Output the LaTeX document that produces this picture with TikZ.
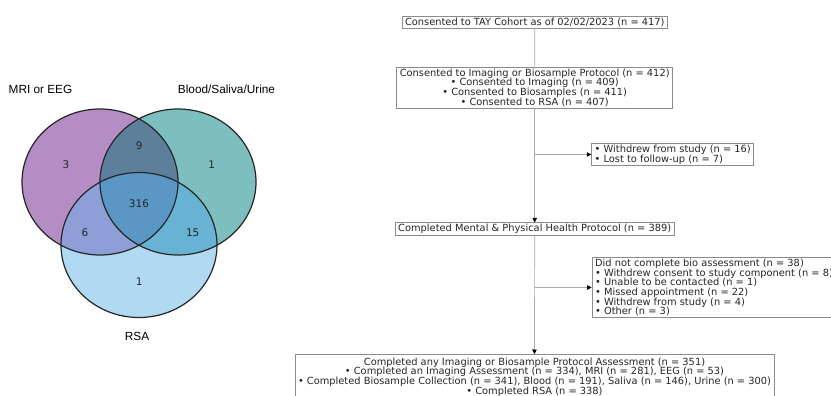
\documentclass[tikz,border=0pt]{standalone}
\usepackage{fontspec}
\setmainfont{DejaVu Sans}
\newfontfamily\arialfont{Liberation Sans}
\newfontfamily\dvfont{DejaVu Sans}
\usetikzlibrary{arrows.meta}
\definecolor{vL}{HTML}{B38DC4}
\definecolor{vR}{HTML}{7DBFBE}
\definecolor{vB}{HTML}{B1D9F2}
\definecolor{vLR}{HTML}{5C809C}
\definecolor{vLB}{HTML}{8E9FD7}
\definecolor{vRB}{HTML}{68B3D3}
\definecolor{vLRB}{HTML}{5A97C4}
\definecolor{boxline}{HTML}{8C8C8C}
\definecolor{conline}{HTML}{AAAAAA}
\definecolor{txt}{HTML}{262626}
\begin{document}
\begin{tikzpicture}[x=1pt,y=-1pt,
  flowbox/.style={draw=boxline, line width=0.8pt, text=txt, inner xsep=3pt, inner ysep=1.6pt,
    font=\dvfont\fontsize{9.85}{9.7}\selectfont},
  conn/.style={draw=conline, line width=0.7pt},
  arr/.style={conn, -{Triangle[length=4.5pt,width=4.5pt,fill=black,color=black]}},
  vennlabel/.style={font=\arialfont\fontsize{11.8}{13}\selectfont, text=black, inner sep=0pt},
  vennnum/.style={font=\dvfont\fontsize{10.5}{12}\selectfont, text=txt, inner sep=0pt},
  vennedge/.style={draw=black!85, line width=1.2pt}
]
\useasboundingbox (0,0) rectangle (831,396);
\fill[white] (0,0) rectangle (831,396);

% ---------- Venn diagram ----------
\def\Lell{(100,182) ellipse [x radius=78, y radius=73]}
\def\Rell{(178,182) ellipse [x radius=78, y radius=73]}
\def\Bell{(139,245) ellipse [x radius=78, y radius=72.5]}
\fill[vL] \Lell;
\fill[vR] \Rell;
\fill[vB] \Bell;
\begin{scope}\clip \Lell; \fill[vLR] \Rell; \end{scope}
\begin{scope}\clip \Lell; \fill[vLB] \Bell; \end{scope}
\begin{scope}\clip \Rell; \fill[vRB] \Bell; \end{scope}
\begin{scope}\clip \Lell; \clip \Rell; \fill[vLRB] \Bell; \end{scope}
\draw[vennedge] \Lell;
\draw[vennedge] \Rell;
\draw[vennedge] \Bell;

\node[vennlabel] (labL) at (40.5,89.3) {MRI or EEG};
\node[vennlabel] (labR) at (226.5,89.3) {Blood/Saliva/Urine};
\node[vennlabel] (labB) at (137,336.7) {RSA};

\node[vennnum] (nL) at (66,164.3) {3};
\node[vennnum] (nLR) at (139.3,145.7) {9};
\node[vennnum] (nR) at (211.7,164.3) {1};
\node[vennnum] (nLRB) at (139,204) {316};
\node[vennnum] (nLB) at (85,233) {6};
\node[vennnum] (nRB) at (192.7,232.7) {15};
\node[vennnum] (nB) at (139.3,281.7) {1};

% ---------- Flowchart ----------
\node[flowbox] (b1) at (534.8,22.2) {Consented to TAY Cohort as of 02/02/2023 (n = 417)};
\node[flowbox, align=center] (b2) at (534.7,87.5) {Consented to Imaging or Biosample Protocol (n = 412)\\
  • Consented to Imaging (n = 409)\\
  • Consented to Biosamples (n = 411)\\
  • Consented to RSA (n = 407)};
\node[flowbox, align=left, anchor=west] (w1) at (591.3,154.5) {• Withdrew from study (n = 16)\\
  • Lost to follow-up (n = 7)};
\node[flowbox] (b3) at (534.7,229.2) {Completed Mental \& Physical Health Protocol (n = 389)};
\node[flowbox, align=left, anchor=west] (w2) at (591.7,287.5) {Did not complete bio assessment (n = 38)\\
  • Withdrew consent to study component (n = 8)\\
  • Unable to be contacted (n = 1)\\
  • Missed appointment (n = 22)\\
  • Withdrew from study (n = 4)\\
  • Other (n = 3)};
\node[flowbox, align=center, anchor=north, inner ysep=3.2pt] (b4) at (534.5,354) {Completed any Imaging or Biosample Protocol Assessment (n = 351)\\
  • Completed an Imaging Assessment (n = 334), MRI (n = 281), EEG (n = 53)\\
  • Completed Biosample Collection (n = 341), Blood (n = 191), Saliva (n = 146), Urine (n = 300)\\
  • Completed RSA (n = 338)};

\coordinate (j1) at (b2.south |- w1.west);
\coordinate (j2) at (b3.south |- w2.west);
\draw[conn] (b1.south) -- (b2.north);
\draw[arr] (b2.south) -- (b3.north);
\draw[arr] (j1) -- (w1.west);
\draw[arr] (b3.south) -- (b4.north);
\draw[arr] (j2) -- (w2.west);
\end{tikzpicture}
\end{document}
